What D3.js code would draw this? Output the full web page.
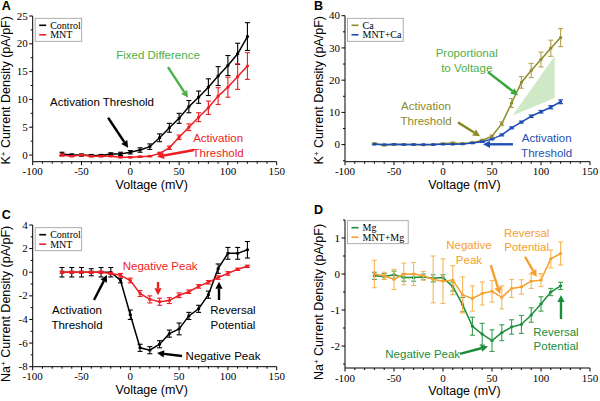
<!DOCTYPE html>
<html>
<head>
<meta charset="utf-8">
<script src="https://cdn.jsdelivr.net/npm/d3@7"></script>
<style>
  body { margin: 0; background: #fff; }
  svg { display: block; }
  .tick-lbl { font-family: "Liberation Serif", "Times New Roman", serif; font-size: 11px; }
  .ax-title { font-family: "Liberation Sans", Arial, sans-serif; font-size: 12.5px; }
  .ann { font-family: "Liberation Sans", Arial, sans-serif; font-size: 11.5px; }
  .leg { font-family: "Liberation Serif", "Times New Roman", serif; font-size: 10px; }
</style>
</head>
<body>
<svg id="chart" width="600" height="401"></svg>
<script>
// voltages shared by every panel
const volts = [-70, -60, -50, -40, -30, -20, -10, 0, 10, 20, 30, 40, 50, 60, 70, 80, 90, 100, 110, 120];

// A: K+ current, control vs MNT
const kControl    = [0.2, 0.0, 0.0, -0.1, -0.1, 0.2, 0.2, 0.5, 0.9, 1.5, 3.1, 4.9, 6.6, 8.7, 10.4, 12.2, 14.2, 16.1, 18.2, 21.3];
const kControlErr = [0.3, 0.2, 0.2, 0.2, 0.2, 0.2, 0.3, 0.3, 0.4, 0.5, 0.7, 0.8, 0.9, 1.1, 1.1, 1.5, 1.7, 1.8, 1.9, 2.5];
const kMnt        = [0.0, -0.2, 0.0, -0.2, -0.2, -0.2, -0.4, -0.4, -0.3, -0.2, 0.3, 1.3, 3.2, 5.0, 6.8, 8.5, 10.6, 12.2, 14.1, 16.0];
const kMntErr     = [0.2, 0.1, 0.1, 0.1, 0.1, 0.1, 0.1, 0.1, 0.1, 0.1, 0.2, 0.3, 0.4, 0.6, 0.8, 1.2, 1.5, 1.8, 2.3, 2.4];

// B: K+ current with Ca
const kCa         = [0.3, -0.2, 0.0, 0.0, 0.0, -0.1, 0.0, 0.3, 0.5, 0.3, 0.6, 1.3, 2.6, 6.5, 12.9, 19.3, 23.0, 26.4, 29.9, 33.2];
const kCaErr      = [0.3, 0.2, 0.2, 0.2, 0.2, 0.2, 0.2, 0.2, 0.3, 0.3, 0.3, 0.4, 0.4, 0.6, 1.4, 1.8, 2.2, 2.3, 2.5, 2.8];
const kMntCa      = [0.1, 0.0, 0.1, 0.0, 0.0, 0.0, 0.0, 0.1, 0.1, 0.2, 0.5, 0.9, 1.7, 3.0, 5.2, 7.0, 8.8, 10.2, 11.6, 13.3];
const kMntCaErr   = [0.1, 0.1, 0.1, 0.1, 0.1, 0.1, 0.1, 0.1, 0.1, 0.1, 0.1, 0.2, 0.2, 0.3, 0.3, 0.3, 0.4, 0.4, 0.5, 0.6];
const caShade     = [[71, 9], [114, 27.5], [114, 14.5]];

// C: Na+ current, control vs MNT
const naControl    = [0.0, 0.0, 0.0, 0.0, 0.0, 0.0, -0.7, -3.6, -6.4, -6.6, -6.1, -5.2, -4.8, -3.7, -3.1, -1.9, 0.3, 1.6, 1.6, 1.9];
const naControlErr = [0.4, 0.4, 0.4, 0.3, 0.4, 0.4, 0.2, 0.4, 0.3, 0.3, 0.3, 0.3, 0.5, 0.3, 0.3, 0.3, 0.4, 0.5, 0.5, 0.7];
const naMnt        = [0.0, 0.0, 0.0, 0.0, 0.0, -0.1, -0.25, -0.7, -1.8, -2.3, -2.5, -2.4, -1.95, -1.65, -1.2, -0.85, -0.45, -0.1, 0.25, 0.5];
const naMntErr     = [0.1, 0.1, 0.1, 0.1, 0.1, 0.1, 0.15, 0.2, 0.25, 0.3, 0.3, 0.25, 0.2, 0.15, 0.15, 0.15, 0.15, 0.15, 0.1, 0.1];

// D: Na+ current with Mg
const naMg        = [-0.05, -0.07, -0.02, -0.1, -0.1, -0.08, -0.12, -0.1, -0.35, -0.85, -1.45, -1.67, -1.85, -1.63, -1.47, -1.4, -1.14, -0.83, -0.5, -0.33];
const naMgErr     = [0.1, 0.08, 0.1, 0.1, 0.1, 0.08, 0.1, 0.08, 0.12, 0.2, 0.25, 0.3, 0.3, 0.22, 0.2, 0.25, 0.2, 0.2, 0.1, 0.1];
const naMntMg     = [0.0, -0.05, -0.15, 0.0, 0.0, -0.05, -0.15, -0.2, -0.17, -0.58, -0.68, -0.54, -0.48, -0.65, -0.4, -0.36, -0.2, -0.17, 0.42, 0.57];
const naMntMgErr  = [0.38, 0.1, 0.28, 0.3, 0.32, 0.12, 0.65, 0.62, 0.4, 0.5, 0.35, 0.32, 0.3, 0.32, 0.25, 0.2, 0.2, 0.18, 0.25, 0.32];

const xTicks = [-100, -50, 0, 50, 100, 150];

const svg = d3.select("#chart");

// one panel = axes + series + legend + notes
function drawPanel(p) {
  const x = d3.scaleLinear().domain([-100, 150]).range(p.xRange);
  const y = d3.scaleLinear().domain(p.yDomain).range(p.yRange);
  const g = svg.append("g");

  // shaded region (panel B only)
  if (p.shade) {
    g.append("path")
      .attr("d", d3.line().x(d => x(d[0])).y(d => y(d[1]))(p.shade) + "Z")
      .attr("fill", "#cfe8c6");
  }

  // series
  p.series.forEach(s => {
    const pts = volts.map((v, i) => ({ v, m: s.vals[i], e: s.err[i] }));
    g.append("path")
      .datum(pts)
      .attr("fill", "none")
      .attr("stroke", s.color)
      .attr("stroke-width", 1.5)
      .attr("d", d3.line().x(d => x(d.v)).y(d => y(d.m)));

    const eb = g.append("g").attr("stroke", s.barColor || s.color).attr("stroke-width", 1.1);
    eb.selectAll("line.v").data(pts).join("line")
      .attr("x1", d => x(d.v)).attr("x2", d => x(d.v))
      .attr("y1", d => y(d.m - d.e)).attr("y2", d => y(d.m + d.e));
    eb.selectAll("line.t").data(pts.flatMap(d => [d.m - d.e, d.m + d.e].map(val => ({ v: d.v, val })))).join("line")
      .attr("x1", d => x(d.v) - 2.5).attr("x2", d => x(d.v) + 2.5)
      .attr("y1", d => y(d.val)).attr("y2", d => y(d.val));

    g.append("g").selectAll("rect").data(pts).join("rect")
      .attr("x", d => x(d.v) - 1.5).attr("y", d => y(d.m) - 1.2)
      .attr("width", 3).attr("height", 2.4)
      .attr("fill", s.color);
  });

  // axes
  const [y0, y1] = p.yDomain;
  const ax = g.append("g").attr("stroke", "#000").attr("stroke-width", 1);
  ax.append("line").attr("x1", p.xRange[0]).attr("x2", p.xRange[1])
    .attr("y1", p.yRange[0]).attr("y2", p.yRange[0]);
  ax.append("line").attr("x1", p.xRange[0]).attr("x2", p.xRange[0])
    .attr("y1", p.yRange[0]).attr("y2", p.yRange[1]);

  const xMinor = d3.range(-100, 151, 10);
  ax.selectAll("line.xt").data(xMinor).join("line")
    .attr("x1", d => x(d)).attr("x2", d => x(d))
    .attr("y1", p.yRange[0]).attr("y2", d => p.yRange[0] + (d % 50 === 0 ? 3.5 : 2));

  const yMinor = d3.range(Math.ceil(y0 / p.yMinorStep) * p.yMinorStep, y1 + 1e-9, p.yMinorStep);
  ax.selectAll("line.yt").data(yMinor).join("line")
    .attr("x1", p.xRange[0]).attr("x2", d => p.xRange[0] - (isMajor(d, p.yTicks) ? 3.5 : 2))
    .attr("y1", d => y(d)).attr("y2", d => y(d));

  g.selectAll("text.xl").data(xTicks).join("text")
    .attr("class", "tick-lbl")
    .attr("x", d => x(d)).attr("y", p.yRange[0] + 13.5)
    .attr("text-anchor", "middle")
    .text(d => d);

  g.selectAll("text.yl").data(p.yTicks).join("text")
    .attr("class", "tick-lbl")
    .attr("x", p.xRange[0] - 5).attr("y", d => y(d) + 3.6)
    .attr("text-anchor", "end")
    .text(d => d);

  // titles
  g.append("text").attr("class", "ax-title")
    .attr("x", (p.xRange[0] + p.xRange[1]) / 2 - 3).attr("y", p.yRange[0] + 27)
    .attr("text-anchor", "middle").text("Voltage (mV)");

  const yt = g.append("text").attr("class", "ax-title")
    .attr("transform", `translate(${p.xRange[0] - 22.5},${(p.yRange[0] + p.yRange[1]) / 2 + p.titleDy}) rotate(-90)`)
    .attr("text-anchor", "middle");
  yt.append("tspan").text(p.ion);
  yt.append("tspan").attr("dy", -4).attr("font-size", "8px").text("+");
  yt.append("tspan").attr("dy", 4).text(" Current Density (pA/pF)");

  g.append("text")
    .attr("x", p.xRange[0] - 31).attr("y", p.yRange[1] - 6)
    .attr("font-family", "Liberation Sans, Arial, sans-serif")
    .attr("font-weight", "bold").attr("font-size", "12.5px")
    .text(p.letter);

  // legend
  const lg = g.append("g").attr("transform", `translate(${p.xRange[0] + 2.5},${p.yRange[1] + p.legendDy})`);
  lg.append("rect").attr("width", p.legendW).attr("height", 23)
    .attr("fill", "#fff").attr("stroke", "#999").attr("stroke-width", 0.8);
  p.series.forEach((s, i) => {
    lg.append("line").attr("x1", 4).attr("x2", 11)
      .attr("y1", 7 + i * 9.5).attr("y2", 7 + i * 9.5)
      .attr("stroke", s.color).attr("stroke-width", 1.6);
    lg.append("text").attr("class", "leg")
      .attr("x", 15).attr("y", 10.5 + i * 9.5).text(s.name);
  });

  // annotations
  p.notes.forEach(n => {
    const t = g.append("text").attr("class", "ann")
      .attr("fill", n.color).attr("text-anchor", "middle");
    n.lines.forEach((ln, i) => {
      t.append("tspan").attr("x", x(n.at[0])).attr("y", y(n.at[1]) + i * 14.5).text(ln);
    });
  });
  p.arrows.forEach(a => drawArrow(g, x(a.from[0]), y(a.from[1]), x(a.to[0]), y(a.to[1]), a.color));
}

function isMajor(v, ticks) {
  return ticks.some(t => Math.abs(t - v) < 1e-9);
}

function drawArrow(g, xa, ya, xb, yb, color) {
  const ang = Math.atan2(yb - ya, xb - xa);
  const hl = 7, hw = 3.6;
  const bx = xb - hl * Math.cos(ang), by = yb - hl * Math.sin(ang);
  g.append("line").attr("x1", xa).attr("y1", ya).attr("x2", bx).attr("y2", by)
    .attr("stroke", color).attr("stroke-width", 2.4);
  const px = -Math.sin(ang) * hw, py = Math.cos(ang) * hw;
  g.append("path")
    .attr("d", `M${xb},${yb}L${bx + px},${by + py}L${bx - px},${by - py}Z`)
    .attr("fill", color);
}

const RED = "#ee1d23", OLIVE = "#8a8a2a", BLUE = "#1f4fb2", GREEN = "#1a8c3a", ORANGE = "#f5a02e", LGREEN = "#4cb048";

drawPanel({
  letter: "A", ion: "K", xRange: [32.7, 276.7], yDomain: [-1.2, 25], yRange: [161.7, 16],
  yTicks: [0, 5, 10, 15, 20, 25], yMinorStep: 2.5, legendDy: 2.3, legendW: 46.5, titleDy: 1.5,
  series: [
    { name: "Control", vals: kControl, err: kControlErr, color: "#000" },
    { name: "MNT", vals: kMnt, err: kMntErr, color: RED }
  ],
  notes: [
    { lines: ["Fixed Difference"], at: [28.4, 17.3], color: LGREEN },
    { lines: ["Activation Threshold"], at: [-29, 8.8], color: "#000" },
    { lines: ["Activation", "Threshold"], at: [90, 2.3], color: RED }
  ],
  arrows: [
    { from: [38.6, 15.8], to: [59.1, 10.3], color: LGREEN },
    { from: [-22.7, 6.7], to: [-2.2, 1.3], color: "#000" },
    { from: [65.5, 0.9], to: [27.4, -0.3], color: RED }
  ]
});

drawPanel({
  letter: "B", ion: "K", xRange: [345, 590], yDomain: [-5.3, 40], yRange: [161.7, 15.7],
  yTicks: [0, 10, 20, 30, 40], yMinorStep: 5, legendDy: 2.6, legendW: 55.7, titleDy: 1.5,
  shade: caShade,
  series: [
    { name: "Ca", vals: kCa, err: kCaErr, color: OLIVE, barColor: "#b5a24a" },
    { name: "MNT+Ca", vals: kMntCa, err: kMntCaErr, color: BLUE }
  ],
  notes: [
    { lines: ["Proportional", "to Voltage"], at: [24.2, 27.1], color: LGREEN },
    { lines: ["Activation", "Threshold"], at: [-17.3, 10.7], color: OLIVE },
    { lines: ["Activation", "Threshold"], at: [105.8, 0.7], color: BLUE }
  ],
  arrows: [
    { from: [45.9, 22.5], to: [76.5, 15.3], color: "#36a83a" },
    { from: [15.3, 6.9], to: [37.8, 2.6], color: OLIVE },
    { from: [71.4, 0.1], to: [40.8, 0.1], color: BLUE }
  ]
});

drawPanel({
  letter: "C", ion: "Na", xRange: [32.7, 276.7], yDomain: [-8, 4], yRange: [366.7, 225],
  yTicks: [-8, -6, -4, -2, 0, 2, 4], yMinorStep: 1, legendDy: 2.7, legendW: 46.5, titleDy: 8,
  series: [
    { name: "Control", vals: naControl, err: naControlErr, color: "#000" },
    { name: "MNT", vals: naMnt, err: naMntErr, color: RED }
  ],
  notes: [
    { lines: ["Negative Peak"], at: [30.6, 0.19], color: RED },
    { lines: ["Activation", "Threshold"], at: [-54.6, -3.54], color: "#000" },
    { lines: ["Reversal", "Potential"], at: [105.2, -3.54], color: "#000" },
    { lines: ["Negative Peak"], at: [95, -7.43], color: "#000" }
  ],
  arrows: [
    { from: [28.4, -0.83], to: [28.4, -1.95], color: RED },
    { from: [-37.2, -2.35], to: [-23.9, -0.23], color: "#000" },
    { from: [90.9, -2.35], to: [90.9, -0.8], color: "#000" },
    { from: [53, -7.09], to: [27.4, -6.84], color: "#000" }
  ]
});

drawPanel({
  letter: "D", ion: "Na", xRange: [345, 590], yDomain: [-2.61, 1.5], yRange: [368, 220],
  yTicks: [-2, -1, 0, 1], yMinorStep: 0.5, legendDy: 0.7, legendW: 60.7, titleDy: 8,
  series: [
    { name: "Mg", vals: naMg, err: naMgErr, color: GREEN, barColor: "#3aa050" },
    { name: "MNT+Mg", vals: naMntMg, err: naMntMgErr, color: ORANGE, barColor: "#f7b75a" }
  ],
  notes: [
    { lines: ["Negative", "Peak"], at: [26.5, 0.69], color: ORANGE },
    { lines: ["Reversal", "Potential"], at: [85.4, 1.03], color: ORANGE },
    { lines: ["Negative Peak"], at: [-20.7, -2.33], color: GREEN },
    { lines: ["Reversal", "Potential"], at: [115.3, -1.72], color: GREEN }
  ],
  arrows: [
    { from: [48.7, 0.25], to: [58.2, -0.56], color: ORANGE },
    { from: [83.7, 0.48], to: [95.6, -0.08], color: ORANGE },
    { from: [17.3, -2.22], to: [45.9, -2.01], color: GREEN },
    { from: [120.4, -1.25], to: [120.4, -0.58], color: GREEN }
  ]
});
</script>
</body>
</html>
